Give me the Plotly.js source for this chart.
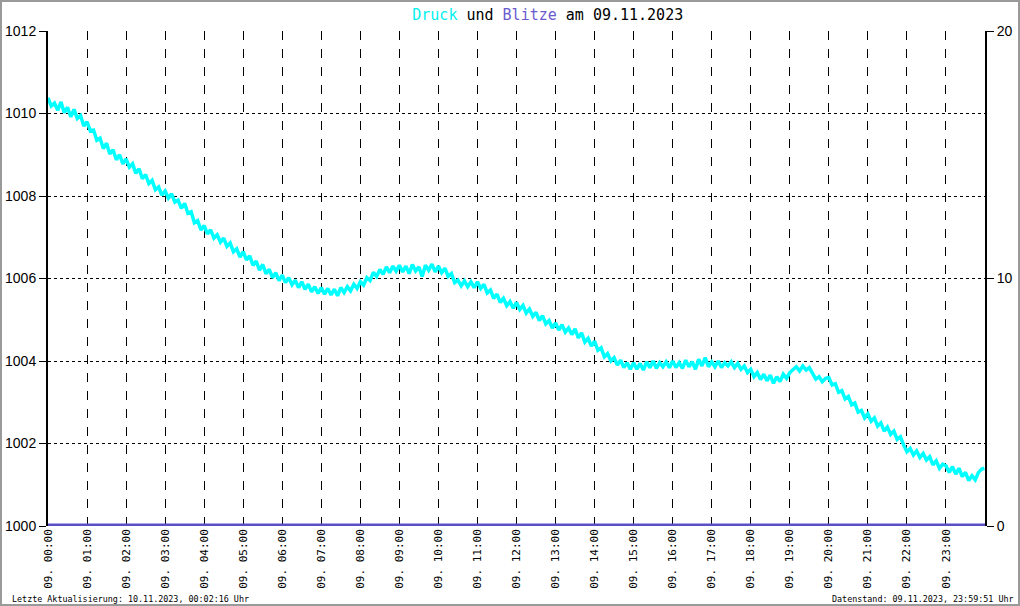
<!DOCTYPE html>
<html>
<head>
<meta charset="utf-8">
<script src="https://cdn.plot.ly/plotly-3.0.1.min.js"></script>
<style>
  html, body { margin: 0; padding: 0; background: #fff; }
  #chart { width: 1020px; height: 606px; }
  #frame { position: absolute; left: 0; top: 0; width: 1020px; height: 606px; box-sizing: border-box; border: 2px solid #9a9a9a; pointer-events: none; }
</style>
</head>
<body>
<div id="chart"></div>
<div id="frame"></div>
<script>
// Druck (hPa), 5-minute samples, one row per hour (09.11.2023)
const h00 = [1010.38,1010.18,1010.25,1010.08,1010.28,1010.02,1010.15,1009.92,1010.10,1009.88,1009.95,1009.70];
const h01 = [1009.80,1009.58,1009.60,1009.35,1009.40,1009.15,1009.28,1009.02,1009.12,1008.88,1009.00,1008.78];
const h02 = [1008.90,1008.70,1008.78,1008.55,1008.66,1008.42,1008.52,1008.30,1008.38,1008.15,1008.22,1008.02];
const h03 = [1008.12,1007.95,1008.05,1007.85,1007.90,1007.70,1007.82,1007.58,1007.62,1007.35,1007.40,1007.18];
const h04 = [1007.28,1007.08,1007.18,1006.98,1007.06,1006.88,1006.98,1006.78,1006.86,1006.65,1006.72,1006.52];
const h05 = [1006.65,1006.45,1006.55,1006.32,1006.42,1006.20,1006.34,1006.12,1006.22,1006.02,1006.14,1005.95];
const h06 = [1006.08,1005.90,1006.02,1005.85,1005.96,1005.78,1005.92,1005.74,1005.86,1005.68,1005.80,1005.64];
const h07 = [1005.78,1005.62,1005.76,1005.60,1005.74,1005.58,1005.78,1005.66,1005.80,1005.70,1005.86,1005.76];
const h08 = [1005.92,1005.84,1006.02,1005.95,1006.15,1006.05,1006.22,1006.10,1006.28,1006.14,1006.30,1006.18];
const h09 = [1006.32,1006.16,1006.30,1006.12,1006.34,1006.18,1006.28,1006.05,1006.32,1006.20,1006.35,1006.16];
const h10 = [1006.30,1006.14,1006.25,1006.05,1006.12,1005.90,1005.96,1005.82,1005.94,1005.80,1005.92,1005.78];
const h11 = [1005.92,1005.76,1005.86,1005.65,1005.72,1005.52,1005.62,1005.42,1005.52,1005.34,1005.44,1005.28];
const h12 = [1005.42,1005.25,1005.35,1005.16,1005.26,1005.08,1005.18,1004.98,1005.10,1004.90,1004.98,1004.80];
const h13 = [1004.92,1004.75,1004.88,1004.70,1004.80,1004.64,1004.78,1004.56,1004.68,1004.46,1004.55,1004.36];
const h14 = [1004.48,1004.26,1004.32,1004.10,1004.18,1004.00,1004.08,1003.90,1004.02,1003.84,1003.96,1003.80];
const h15 = [1003.96,1003.80,1003.94,1003.78,1003.98,1003.84,1004.00,1003.82,1003.96,1003.86,1003.98,1003.84];
const h16 = [1004.00,1003.84,1003.96,1003.82,1004.02,1003.86,1003.98,1003.80,1004.04,1003.88,1004.08,1003.86];
const h17 = [1003.98,1003.86,1004.00,1003.84,1003.96,1003.88,1003.98,1003.84,1003.94,1003.80,1003.88,1003.72];
const h18 = [1003.80,1003.62,1003.72,1003.55,1003.68,1003.52,1003.66,1003.46,1003.62,1003.50,1003.68,1003.58];
const h19 = [1003.72,1003.80,1003.86,1003.76,1003.88,1003.78,1003.84,1003.70,1003.56,1003.62,1003.50,1003.58];
const h20 = [1003.60,1003.42,1003.45,1003.24,1003.28,1003.08,1003.14,1002.94,1002.98,1002.76,1002.80,1002.62];
const h21 = [1002.72,1002.54,1002.62,1002.42,1002.50,1002.30,1002.40,1002.22,1002.30,1002.10,1002.16,1001.96];
const h22 = [1001.80,1001.88,1001.72,1001.82,1001.66,1001.76,1001.60,1001.68,1001.48,1001.58,1001.40,1001.50];
const h23 = [1001.46,1001.30,1001.44,1001.26,1001.40,1001.20,1001.30,1001.10,1001.22,1001.12,1001.30,1001.38];
const lastValue = 1001.40;           // 23:59
const druckHours = [h00,h01,h02,h03,h04,h05,h06,h07,h08,h09,h10,h11,h12,h13,h14,h15,h16,h17,h18,h19,h20,h21,h22,h23];

// Blitze per hour (none on this day)
const blitze = [0,0,0,0,0,0,0,0,0,0,0,0,0,0,0,0,0,0,0,0,0,0,0,0,0];

const hourLabels = ["09. 00:00","09. 01:00","09. 02:00","09. 03:00","09. 04:00","09. 05:00","09. 06:00","09. 07:00",
  "09. 08:00","09. 09:00","09. 10:00","09. 11:00","09. 12:00","09. 13:00","09. 14:00","09. 15:00",
  "09. 16:00","09. 17:00","09. 18:00","09. 19:00","09. 20:00","09. 21:00","09. 22:00","09. 23:00"];

// build x (hours of day) and y
const dx = [], dy = [];
druckHours.forEach((row, h) => row.forEach((v, i) => { dx.push(h + i * 5 / 60); dy.push(v); }));
dx.push(23 + 59 / 60); dy.push(lastValue);
const bx = blitze.map((v, i) => i);

const mono = "DejaVu Sans Mono, Liberation Mono, monospace";

const traces = [
  { x: bx, y: blitze, yaxis: "y2", type: "scatter", mode: "lines",
    line: { color: "#5b4fc8", width: 5 }, hoverinfo: "skip" },
  { x: dx, y: dy, type: "scatter", mode: "lines",
    line: { color: "#00ffff", width: 3.5 }, hoverinfo: "skip" }
];

const layout = {
  width: 1020, height: 606,
  margin: { l: 48, r: 35, t: 31, b: 80 },
  paper_bgcolor: "#ffffff", plot_bgcolor: "#ffffff",
  showlegend: false,
  title: {
    text: '<span style="color:#00f0f0">Druck</span> und <span style="color:#6a5acd">Blitze</span> am 09.11.2023',
    font: { family: mono, size: 15, color: "#000" },
    x: 0.537, xanchor: "center", y: 0.985, yanchor: "top"
  },
  xaxis: {
    range: [0, 24], tickvals: bx.slice(0, 24), ticktext: hourLabels,
    tickangle: -90, tickfont: { family: mono, size: 11, color: "#000" },
    ticks: "", showgrid: true, gridcolor: "#000", gridwidth: 1, griddash: "dash",
    showline: false, zeroline: false, fixedrange: true
  },
  yaxis: {
    range: [1000, 1012], dtick: 2, tick0: 1000,
    tickfont: { family: "Liberation Sans, Arial, sans-serif", size: 14, color: "#000" },
    ticks: "outside", ticklen: 7, tickcolor: "#000", tickwidth: 1,
    showline: true, linecolor: "#000", linewidth: 2,
    showgrid: true, gridcolor: "#000", gridwidth: 1, griddash: "dot",
    zeroline: false, fixedrange: true
  },
  yaxis2: {
    range: [0, 20], tickvals: [0, 10, 20], overlaying: "y", side: "right",
    tickfont: { family: "Liberation Sans, Arial, sans-serif", size: 14, color: "#000" },
    ticks: "outside", ticklen: 7, tickcolor: "#000", tickwidth: 1,
    showline: true, linecolor: "#000", linewidth: 2,
    showgrid: false, zeroline: false, fixedrange: true
  },
  annotations: [
    { text: "Letzte Aktualisierung: 10.11.2023, 00:02:16 Uhr", xref: "paper", yref: "paper",
      x: -0.041, y: -0.147, xanchor: "left", yanchor: "middle", showarrow: false,
      font: { family: mono, size: 8.4, color: "#000" } },
    { text: "Datenstand: 09.11.2023, 23:59:51 Uhr", xref: "paper", yref: "paper",
      x: 1.033, y: -0.147, xanchor: "right", yanchor: "middle", showarrow: false,
      font: { family: mono, size: 8.4, color: "#000" } }
  ]
};

Plotly.newPlot("chart", traces, layout, { staticPlot: true, displayModeBar: false });
</script>
</body>
</html>
